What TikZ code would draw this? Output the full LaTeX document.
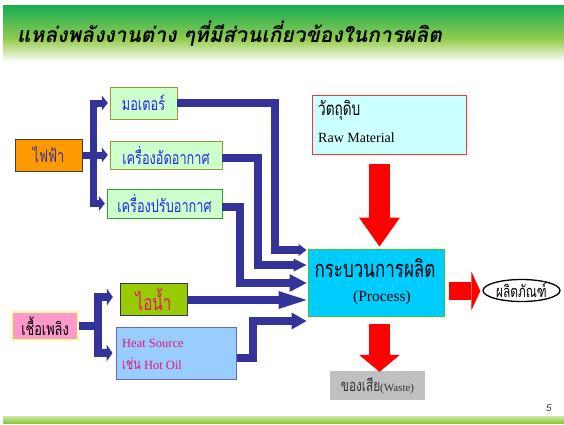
\documentclass[tikz,border=0pt]{standalone}
\usepackage{fontspec}
\setmainfont{Liberation Serif}
\newfontfamily\thfont[Script=Thai,FakeStretch=0.72]{Loma}
\newfontfamily\thtitle[Script=Thai,FakeSlant=0.2]{Loma}
\newfontfamily\sansfnt{Liberation Sans}
\usetikzlibrary{arrows.meta,shapes.geometric}
\definecolor{bnavy}{RGB}{51,51,153}
\definecolor{orng}{RGB}{255,153,0}
\definecolor{lgrn}{RGB}{204,255,204}
\definecolor{procc}{RGB}{0,204,255}
\definecolor{rawc}{RGB}{204,255,255}
\definecolor{steamc}{RGB}{153,204,0}
\definecolor{heatc}{RGB}{153,204,255}
\definecolor{pinkc}{RGB}{255,153,204}
\definecolor{magc}{RGB}{230,20,120}
\definecolor{txtblue}{RGB}{40,40,230}
\definecolor{wastec}{RGB}{192,192,192}
\definecolor{olivec}{RGB}{153,153,51}
\definecolor{grnb}{RGB}{51,153,51}
\definecolor{redc}{RGB}{255,0,0}
\definecolor{tg1}{RGB}{22,172,82}
\definecolor{tg2}{RGB}{150,205,80}
\definecolor{bg1}{RGB}{205,232,165}
\definecolor{bg2}{RGB}{140,198,63}
\tikzset{
  bx/.style={inner sep=0pt, anchor=center},
  pa/.style={draw=bnavy, line width=8pt, line join=miter},
  ra/.style={draw=redc, line join=miter},
}
\newcommand\lbl{\thfont\fontsize{17.7}{20}\selectfont}
\begin{document}
\begin{tikzpicture}[x=1pt,y=-1pt]
\useasboundingbox (0,0) rectangle (564,424);
\fill[white] (0,0) rectangle (564,424);
% title banner
\shade[top color=tg1, bottom color=tg2] (3,5) rectangle (564,40);
\shade[top color=tg2, bottom color=white] (3,39.5) rectangle (564,62);
\node[anchor=base west, inner sep=0pt, font=\thtitle\bfseries\fontsize{21}{24}\selectfont] (title) at (17,42) {แหล่งพลังงานต่าง ๆที่มีส่วนเกี่ยวข้องในการผลิต};
% bottom stripe
\shade[top color=bg1, bottom color=bg2] (3,416) rectangle (564,423);
\node[font=\sansfnt\itshape\fontsize{10}{12}\selectfont, text=darkgray, inner sep=0pt] (pg) at (549,408) {5};

% boxes
\node[bx, draw=darkgray, fill=orng, minimum width=67pt, minimum height=32pt, text=bnavy, font=\lbl] (fire) at (48.5,155) {ไฟฟ้า};
\node[bx, draw=olivec, fill=lgrn, minimum width=67pt, minimum height=32pt, text=txtblue, font=\lbl] (motor) at (143.5,103) {มอเตอร์};
\node[bx, draw=olivec, fill=lgrn, minimum width=112pt, minimum height=28pt, text=txtblue, font=\lbl] (comp) at (166,155) {เครื่องอัดอากาศ};
\node[bx, draw=grnb, fill=lgrn, minimum width=115pt, minimum height=29pt, text=txtblue, font=\lbl] (aircon) at (164.5,203.5) {เครื่องปรับอากาศ};
\node[bx, draw={rgb,255:red,255;green,255;blue,153}, line width=1.5pt, fill=pinkc, minimum width=66pt, minimum height=28pt, font=\lbl] (fuel) at (45,326) {เชื้อเพลิง};
\node[bx, draw={rgb,255:red,51;green,51;blue,102}, fill=steamc, minimum width=67pt, minimum height=32pt, text=magc, font=\thfont\fontsize{21.2}{23}\selectfont] (steam) at (153.5,299) {ไอน้ำ};
\node[bx, draw={rgb,255:red,102;green,102;blue,204}, line width=1pt, fill=heatc, minimum width=120pt, minimum height=52pt] (heat) at (176,353) {};
\node[anchor=west, inner sep=0pt, text=magc, font=\fontsize{12.5}{14}\selectfont] (heat1) at (122,343) {Heat Source};
\node[anchor=west, inner sep=0pt, text=magc, font=\fontsize{12.5}{14}\selectfont] (heat2) at (122,364) {{\thfont\fontsize{15.3}{17}\selectfont เช่น} Hot Oil};

\node[bx, draw={rgb,255:red,255;green,51;blue,51}, line width=1pt, fill=rawc, minimum width=154pt, minimum height=59pt] (raw) at (389,124.5) {};
\node[anchor=west, inner sep=0pt, font=\thfont\fontsize{18.9}{21}\selectfont] (raw1) at (318,110) {วัตถุดิบ};
\node[anchor=west, inner sep=0pt, font=\fontsize{14}{16}\selectfont] (raw2) at (318,138) {Raw Material};

\node[bx, draw={rgb,255:red,51;green,204;blue,51}, line width=1pt, fill=procc, minimum width=136pt, minimum height=67pt] (proc) at (376,282.5) {};
\node[inner sep=0pt, font=\thfont\fontsize{23.6}{26}\selectfont] (proc1) at (375,268) {กระบวนการผลิต};
\node[inner sep=0pt, font=\fontsize{15.5}{18}\selectfont] (proc2) at (382,298) {(Process)};

\node[ellipse, draw=black, line width=1.3pt, fill=white, minimum width=77pt, minimum height=22pt, inner sep=0pt, font=\thfont\fontsize{16.5}{18}\selectfont] (prod) at (521.5,290.5) {ผลิตภัณฑ์};
\node[bx, fill=wastec, minimum width=95pt, minimum height=29pt, text={rgb,255:red,51;green,51;blue,51}] (waste) at (377.5,385.5) {{\thfont\fontsize{16.5}{18}\selectfont ของเสีย}{\fontsize{11}{13}\selectfont(Waste)}};

% electricity bracket
\coordinate (bx1) at (93.5,0);
\draw[pa, line width=7pt, -{Triangle[length=6pt,width=15pt,line width=0pt]}, shorten >=2pt] (bx1 |- aircon.west) |- (motor.west);
\draw[pa, line width=7pt, -{Triangle[length=6pt,width=15pt,line width=0pt]}, shorten >=2pt] (bx1 |- motor.west) |- ([yshift=0pt]aircon.west);
\draw[pa, line width=7pt, -{Triangle[length=6pt,width=15pt,line width=0pt]}, shorten >=2pt] (fire.east) -- (comp.west);

% fuel bracket
\coordinate (bx2) at (98,0);
\coordinate (st) at ([yshift=2pt]steam.west);
\draw[pa, -{Triangle[length=6pt,width=17pt,line width=0pt]}, shorten >=7pt] (bx2 |- heat.west) |- (st);
\draw[pa, -{Triangle[length=6pt,width=17pt,line width=0pt]}, shorten >=3pt] (bx2 |- st) |- (heat.west);
\draw[pa] (fuel.east) -- (bx2 |- fuel.east);

% inputs to process
\coordinate (p1) at ([xshift=-1pt,yshift=32.5pt]proc.west);
\coordinate (p2) at ([xshift=-1pt,yshift=17.5pt]proc.west);
\coordinate (p3) at ([xshift=-1pt,yshift=-0.5pt]proc.west);
\coordinate (p4) at ([xshift=-1pt,yshift=-17.5pt]proc.west);
\coordinate (p5) at ([xshift=-1pt,yshift=-38.5pt]proc.west);
\coordinate (v1) at (275,0);
\coordinate (v2) at (258,0);
\coordinate (v3) at (240,0);
\coordinate (v5) at (252.5,0);
\draw[pa, -{Triangle[length=8pt,width=12pt,line width=0pt]}] (motor.east) -| (v1 |- p1) -- (p1);
\draw[pa, -{Triangle[length=13pt,width=13pt,line width=0pt]}] ([yshift=-3pt]comp.east) -| (v2 |- p2) -- (p2);
\draw[pa, -{Triangle[length=17pt,width=18pt,line width=0pt]}] ([yshift=-3.5pt]aircon.east) -| (v3 |- p3) -- (p3);
\draw[pa, -{Triangle[length=28pt,width=18pt,line width=0pt]}] (steam.east |- p4) -- (p4);
\draw[pa, -{Triangle[length=15pt,width=17pt,line width=0pt]}] ([yshift=-5pt]heat.east) -| (v5 |- p5) -- (p5);

% red arrows
\coordinate (r1s) at ([xshift=-9.5pt,yshift=-9pt]raw.south);
\coordinate (r1e) at ([yshift=2pt]r1s |- proc.north);
\draw[ra, line width=21pt, -{Triangle[length=29pt,width=41pt,line width=0pt]}] (r1s) -- (r1e);
\coordinate (r2s) at ([yshift=-7pt]r1s |- proc.south);
\coordinate (r2e) at ([yshift=-1pt]r1s |- waste.north);
\draw[ra, line width=21pt, -{Triangle[length=17pt,width=41pt,line width=0pt]}] (r2s) -- (r2e);
\coordinate (r3s) at ([xshift=4pt,yshift=-8.5pt]proc.east);
\coordinate (r3e) at ([xshift=-2pt]prod.west |- r3s);
\draw[ra, line width=18pt, -{Triangle[length=9pt,width=39pt,line width=0pt]}] (r3s) -- (r3e);
\end{tikzpicture}
\end{document}
